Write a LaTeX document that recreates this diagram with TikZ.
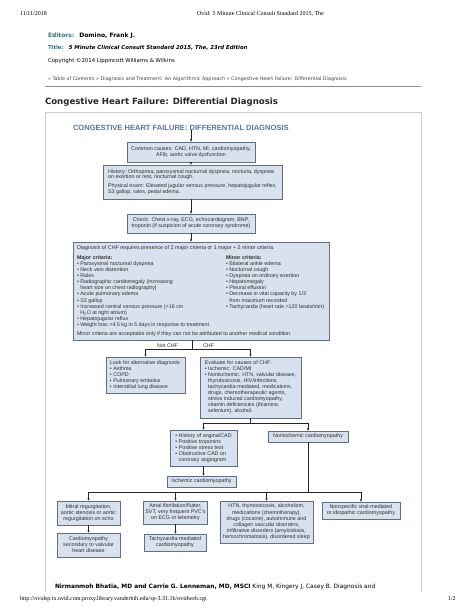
\documentclass[tikz,border=0pt]{standalone}
\usepackage{fontspec}
\setmainfont{Liberation Sans}
\newfontfamily\webfont{DejaVu Sans}
\newfontfamily\printfont{Liberation Serif}
\usetikzlibrary{arrows.meta,shadows}
\definecolor{boxfill}{RGB}{216,226,239}
\definecolor{boxline}{RGB}{96,110,136}
\definecolor{boxtext}{RGB}{45,45,45}
\definecolor{chartblue}{RGB}{72,121,182}
\definecolor{webteal}{RGB}{52,117,128}
\definecolor{webgray}{RGB}{70,70,70}
\definecolor{framegray}{RGB}{205,205,205}

\begin{document}
\begin{tikzpicture}[y=1pt, x=1pt, yscale=-1, inner sep=0pt, outer sep=0pt,
  box/.style={draw=boxline, fill=boxfill, line width=0.6pt, inner xsep=2pt,
    inner ysep=1.5pt, text=boxtext, font=\fontsize{5.35}{6}\selectfont,
    align=center, drop shadow={shadow xshift=0.7pt, shadow yshift=-0.7pt,
    fill=black!70, opacity=0.6}},
  boxtxt/.style={text=boxtext, font=\fontsize{5.35}{6.05}\selectfont, align=left},
  conn/.style={draw=black!85, line width=0.5pt, -{Latex[length=2.6pt, width=2.2pt]}},
  wire/.style={draw=black!85, line width=0.5pt},
  webtxt/.style={anchor=base west, font=\webfont\fontsize{5}{6}\selectfont},
  printtxt/.style={anchor=base west, font=\printfont\fontsize{6}{7}\selectfont}]
\fill[white] (0,0) rectangle (474,613);
\useasboundingbox (0,0) rectangle (474,613);

\path (20,15) node[printtxt] (date) {11/11/2018};
\path (197,15) node[printtxt] (runhead) {Ovid: 5 Minute Clinical Consult Standard 2015, The};
\path (48,37) node[webtxt, font=\webfont\bfseries\fontsize{6}{7}\selectfont] (editors)
  {\textcolor{webteal}{Editors:}\hspace{5pt}Domino, Frank J.};
\path (48,49.5) node[webtxt, font=\webfont\bfseries\fontsize{5.4}{7}\selectfont] (booktitle)
  {\textcolor{webteal}{Title:}\hspace{5pt}\textit{5 Minute Clinical Consult Standard 2015, The, 23rd Edition}};
\path (48,62) node[webtxt, font=\webfont\fontsize{5.4}{7}\selectfont] (copyright)
  {Copyright ©2014 Lippincott Williams \& Wilkins};
\path (48,80) node[webtxt, font=\webfont\fontsize{4.85}{6}\selectfont, text=webgray] (crumbs)
  {» Table of Contents » Diagnosis and Treatment: An Algorithmic Approach » Congestive Heart Failure: Differential Diagnosis};
\path[draw=black!45, line width=0.9pt] (45,86) -- (421,86);
\path (45,104.5) node[webtxt, font=\webfont\bfseries\fontsize{8.6}{10}\selectfont, text=black!85] (heading)
  {Congestive Heart Failure: Differential Diagnosis};
\path[draw=framegray, line width=0.8pt] (45,592) -- (45,112) -- (421,112) -- (421,592);
\path (73,130) node[anchor=base west, font=\bfseries\fontsize{7.55}{9}\selectfont, text=chartblue] (charttitle)
  {CONGESTIVE HEART FAILURE: DIFFERENTIAL DIAGNOSIS};

\node[box, minimum width=128pt, minimum height=20pt] (causes) at (191,152)
  {Common causes: CAD, HTN, MI, cardiomyopathy,\\AFib, aortic valve dysfunction};
\node[box, align=left, minimum width=179pt, minimum height=34pt,
  font=\fontsize{5.35}{5.6}\selectfont] (history) at (192.5,182)
  {History: Orthopnea, paroxysmal nocturnal dyspnea, nocturia, dyspnea\\on exertion or rest, nocturnal cough.\\[3.4pt]Physical exam: Elevated jugular venous pressure, hepatojugular reflex,\\S3 gallop, rales, pedal edema.};
\node[box, minimum width=128pt, minimum height=19pt] (check) at (191,223.5)
  {Check: Chest x-ray, ECG, echocardiogram, BNP,\\troponin (if suspicion of acute coronary syndrome)};
\node[box, minimum width=256pt, minimum height=98pt] (criteria) at (201,291) {};
\path (77,249.8) node[boxtxt, anchor=base west] (critintro)
  {Diagnosis of CHF requires presence of 2 major criteria or 1 major + 2 minor criteria.};
\path (77,255.8) node[boxtxt, anchor=north west] (major)
  {\textbf{Major criteria:}\\• Paroxysmal nocturnal dyspnea\\• Neck vein distention\\• Rales\\• Radiographic cardiomegaly (increasing\\\phantom{• }heart size on chest radiography)\\• Acute pulmonary edema\\• S3 gallop\\• Increased central venous pressure (>16 cm\\\phantom{• }H\textsubscript{2}O at right atrium)\\• Hepatojugular reflux\\• Weight loss >4.5 kg in 5 days in response to treatment};
\path (226,255.8) node[boxtxt, anchor=north west] (minor)
  {\textbf{Minor criteria:}\\• Bilateral ankle edema\\• Nocturnal cough\\• Dyspnea on ordinary exertion\\• Hepatomegaly\\• Pleural effusion\\• Decrease in vital capacity by 1/3\\\phantom{• }from maximum recorded\\• Tachycardia (heart rate >120 beats/min)};
\path (77,335.8) node[boxtxt, anchor=base west] (critnote)
  {Minor criteria are acceptable only if they can not be attributed to another medical condition.};

\node[box, align=left, minimum width=79pt, minimum height=36pt] (altdiag) at (145.5,375)
  {Look for alternative diagnosis:\\• Asthma\\• COPD\\• Pulmonary embolus\\• Interstitial lung disease};
\node[box, align=left, minimum width=101pt, minimum height=61pt] (evaluate) at (250.5,387.5)
  {Evaluate for causes of CHF:\\• Ischemic: CAD/MI\\• Nonischemic: HTN, valvular disease,\\\phantom{• }thyrotoxicosis, HIV/infections,\\\phantom{• }tachycardia-mediated, medications,\\\phantom{• }drugs, chemotherapeutic agents,\\\phantom{• }stress induced cardiomyopathy,\\\phantom{• }vitamin deficiencies (thiamine,\\\phantom{• }selenium), alcohol.};
\node[box, align=left, minimum width=67pt, minimum height=36pt] (ischhist) at (203.5,448)
  {• History of angina/CAD\\• Positive troponins\\• Positive stress test\\• Obstructive CAD on\\\phantom{• }coronary angiogram};
\node[box, minimum width=80pt, minimum height=11pt] (nonisch) at (308,436.5) {Nonischemic cardiomyopathy};
\node[box, minimum width=69pt, minimum height=11pt] (ischemic) at (201.5,481.5) {Ischemic cardiomyopathy};
\node[box, minimum width=63pt, minimum height=24pt] (valvular) at (88.5,513)
  {Mitral regurgitation,\\aortic stenosis or aortic\\regurgitation on echo};
\node[box, minimum width=63pt, minimum height=23pt] (arrhythmia) at (175.5,512.5)
  {Atrial fibrillation/flutter,\\SVT, very frequent PVC's\\on ECG or telemetry};
\node[box, minimum width=93pt, minimum height=42pt, font=\fontsize{5.35}{6.2}\selectfont] (systemic) at (266.5,522)
  {HTN, thyrotoxicosis, alcoholism,\\medications (chemotherapy),\\drugs (cocaine), autoimmune and\\collagen vascular disorders,\\infiltrative disorders (amyloidosis,\\hemochromatosis), disordered sleep};
\node[box, minimum width=78pt, minimum height=17pt] (idiopathic) at (361,510.5)
  {Nonspecific viral-mediated\\or idiopathic cardiomyopathy};
\node[box, minimum width=63pt, minimum height=24pt] (valvcm) at (88.5,545)
  {Cardiomyopathy\\secondary to valvular\\heart disease};
\node[box, minimum width=62pt, minimum height=17pt] (tachycm) at (175,542.5)
  {Tachycardia-mediated\\cardiomyopathy};

\coordinate (fork1) at (192.5,349);
\coordinate (fork2) at (250.5,423);
\coordinate (fork3) at (308,492);
\path[conn] (causes.north |- charttitle.south) -- (causes.north);
\path[conn] (causes.south) -- (causes.south |- history.north);
\path[conn] (check.north |- history.south) -- (check.north);
\path[conn] (check.south) -- (check.south |- criteria.north);
\path[wire] (fork1 |- criteria.south) -- (fork1);
\path[conn] (fork1) -| (altdiag.north);
\path[conn] (fork1) -| (evaluate.north);
\path (178,347) node[anchor=base east, font=\fontsize{5.35}{6}\selectfont, text=boxtext] (notchf) {Not CHF};
\path (203,347) node[anchor=base west, font=\fontsize{5.35}{6}\selectfont, text=boxtext] (chf) {CHF};
\path[wire] (evaluate.south) -- (fork2);
\path[conn] (fork2) -| (ischhist.north);
\path[conn] (fork2) -| (nonisch.north);
\path[conn] (ischhist.south) -- (ischhist.south |- ischemic.north);
\path[wire] (nonisch.south) -- (fork3);
\path[conn] (fork3) -| (valvular.north);
\path[conn] (fork3) -| (arrhythmia.north);
\path[conn] (fork3) -| (systemic.north);
\path[conn] (fork3) -| (idiopathic.north);
\path[conn] (valvular.south) -- (valvcm.north);
\path[conn] (arrhythmia.south) -- (arrhythmia.south |- tachycm.north);

\path (55,588) node[webtxt, font=\webfont\fontsize{5.9}{7}\selectfont] (authors)
  {\textbf{Nirmanmoh Bhatia, MD and Carrie G. Lenneman, MD, MSCI} King M, Kingery J, Casey B. Diagnosis and};
\path (20,600) node[printtxt] (url) {http://ovidsp.tx.ovid.com.proxy.library.vanderbilt.edu/sp-3.31.1b/ovidweb.cgi};
\path (448,600) node[printtxt] (pageno) {1/2};
\end{tikzpicture}
\end{document}
